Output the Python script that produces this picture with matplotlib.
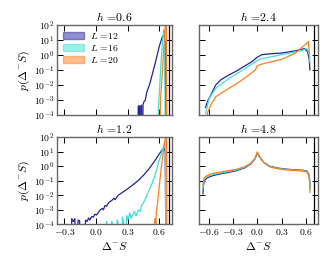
import numpy as np
import matplotlib
matplotlib.use('Agg')
import matplotlib.pyplot as plt
from matplotlib.patches import Patch

plt.rcParams['font.family'] = ['cmr10', 'DejaVu Serif']
plt.rcParams['mathtext.fontset'] = 'cm'
plt.rcParams['axes.unicode_minus'] = False

# log10 of p(Delta^- S); -9 marks an empty bin (drops to the bottom)
sizes = [12, 16, 20]
colors = ['#22229a', '#40e0d0', '#ff7f1e']

# h = 0.6
x06_12 = [0.395, 0.40, 0.41, 0.42, 0.425, 0.43, 0.44, 0.445, 0.455, 0.465, 0.48, 0.51, 0.56, 0.60, 0.63, 0.645, 0.655, 0.665]
y06_12 = [-9, -3.4, -3.4, -9, -3.4, -3.35, -9, -3.3, -3.1, -3.05, -2.5, -1.9, -0.56, 0.6, 1.25, 1.3, 0.8, -9]
x06_16 = [0.585, 0.59, 0.60, 0.61, 0.62, 0.63, 0.64, 0.65, 0.658]
y06_16 = [-9, -3.5, -2.5, -1.2, 0.0, 1.0, 1.7, 1.6, -9]
x06_20 = [0.60, 0.61, 0.625, 0.64, 0.655, 0.665, 0.672]
y06_20 = [-9, -3.0, -1.5, 0.3, 1.9, 2.3, -9]

# h = 1.2
x12_12 = [-0.235, -0.23, -0.215, -0.20, -0.19, -0.17, -0.155, -0.145, -0.11, -0.10, -0.085, -0.07, -0.06, -0.04,
          -0.025, -0.01, 0.005, 0.02, 0.04, 0.06, 0.07, 0.085, 0.10, 0.12, 0.15, 0.17, 0.18, 0.21, 0.25, 0.30,
          0.35, 0.40, 0.45, 0.50, 0.55, 0.60, 0.63, 0.645, 0.655, 0.665]
y12_12 = [-9, -3.6, -3.8, -3.6, -9, -3.7, -3.75, -9, -9, -3.7, -3.8, -3.55, -3.7, -3.45,
          -3.5, -3.3, -3.35, -3.2, -3.0, -2.9, -3.0, -2.7, -2.75, -2.5, -2.35, -2.2, -2.3, -2.0, -1.8, -1.55,
          -1.28, -0.98, -0.62, -0.2, 0.3, 0.85, 1.15, 1.25, 1.0, -9]
x12_16 = [0.095, 0.10, 0.11, 0.14, 0.15, 0.16, 0.19, 0.20, 0.21, 0.22, 0.24, 0.25, 0.26, 0.27, 0.29, 0.30, 0.32,
          0.33, 0.35, 0.36, 0.38, 0.40, 0.42, 0.43, 0.45, 0.47, 0.495, 0.53, 0.56, 0.59, 0.61, 0.64, 0.655, 0.665]
y12_16 = [-9, -3.8, -9, -9, -3.8, -9, -9, -3.7, -3.9, -9, -9, -3.5, -3.8, -9, -3.4, -3.7, -3.2,
          -3.6, -3.3, -3.1, -3.4, -3.0, -3.1, -2.7, -2.5, -2.2, -1.77, -1.2, -0.6, 0.2, 0.65, 1.35, 1.8, -9]
x12_20 = [0.555, 0.56, 0.565, 0.57, 0.58, 0.59, 0.60, 0.615, 0.63, 0.645, 0.66, 0.668, 0.672]
y12_20 = [-9, -3.6, -9, -3.2, -2.7, -2.0, -1.3, -0.3, 0.6, 1.4, 2.0, 2.2, -9]

# h = 2.4
x24_12 = [-0.64, -0.616, -0.575, -0.514, -0.45, -0.351, -0.25, -0.188, -0.065, -0.004, 0.057, 0.15, 0.302, 0.465, 0.58, 0.62, 0.64, 0.648]
y24_12 = [-3.5, -3.1, -2.67, -2.0, -1.65, -1.33, -1.05, -0.84, -0.44, -0.16, 0.02, 0.07, 0.13, 0.27, 0.42, 0.22, -0.3, -1.0]
x24_16 = [-0.64, -0.63, -0.596, -0.514, -0.351, -0.188, -0.004, 0.057, 0.302, 0.547, 0.608, 0.64, 0.648]
y24_16 = [-3.9, -3.67, -2.89, -2.22, -1.56, -1.04, -0.38, -0.24, 0.02, 0.29, 0.44, 0.11, -0.5]
x24_20 = [-0.63, -0.616, -0.575, -0.514, -0.351, -0.188, -0.024, -0.004, 0.057, 0.302, 0.465, 0.588, 0.629, 0.635, 0.64]
y24_20 = [-9, -3.87, -3.33, -2.78, -2.22, -1.67, -1.0, -0.73, -0.6, -0.29, 0.11, 0.67, 0.89, 0.5, 0.15]

# h = 4.8
x48 = [-0.672, -0.665, -0.655, -0.62, -0.55, -0.45, -0.35, -0.25, -0.15, -0.08, -0.03, 0.0,
       0.03, 0.08, 0.15, 0.25, 0.35, 0.45, 0.55, 0.61, 0.635, 0.645, 0.65]
y48_12 = [-1.9, -1.3, -1.0, -0.8, -0.65, -0.52, -0.42, -0.3, -0.1, 0.15, 0.5, 0.9,
          0.6, 0.25, 0.0, -0.13, -0.2, -0.25, -0.28, -0.33, -0.55, -0.9, -1.5]
y48_16 = [-1.55, -1.15, -0.9, -0.72, -0.58, -0.46, -0.36, -0.25, -0.06, 0.18, 0.52, 0.93,
          0.62, 0.25, -0.02, -0.15, -0.22, -0.27, -0.3, -0.36, -0.6, -1.0, -1.6]
y48_20 = [-1.3, -1.0, -0.8, -0.64, -0.5, -0.4, -0.3, -0.2, -0.02, 0.22, 0.55, 0.98,
          0.63, 0.24, -0.04, -0.18, -0.25, -0.3, -0.33, -0.4, -0.65, -1.1, -1.8]

panels = [
    ('0.6', [(x06_12, y06_12), (x06_16, y06_16), (x06_20, y06_20)]),
    ('2.4', [(x24_12, y24_12), (x24_16, y24_16), (x24_20, y24_20)]),
    ('1.2', [(x12_12, y12_12), (x12_16, y12_16), (x12_20, y12_20)]),
    ('4.8', [(x48, y48_12), (x48, y48_16), (x48, y48_20)]),
]

fig = plt.figure(figsize=(3.29, 2.65), dpi=100)
boxes = [[0.173, 0.566, 0.350, 0.340], [0.605, 0.566, 0.362, 0.340],
         [0.173, 0.153, 0.350, 0.330], [0.605, 0.153, 0.362, 0.330]]

for k, (h, curves) in enumerate(panels):
    ax = fig.add_axes(boxes[k])
    for (xs, ys), c in zip(curves, colors):
        ax.plot(xs, 10.0 ** np.array(ys), color=c, lw=0.9)
    ax.axvline(np.log(2), color='k', lw=0.9)
    ax.set_yscale('log')
    ax.set_ylim(1e-4, 1e2)
    ax.set_yticks([1e-4, 1e-3, 1e-2, 1e-1, 1e0, 1e1, 1e2])
    left = k % 2 == 0
    if left:
        ax.set_xlim(-0.37, 0.72)
        xt = [-0.3, 0.0, 0.3, 0.6]
    else:
        ax.set_xlim(-0.72, 0.75)
        xt = [-0.6, -0.3, 0.0, 0.3, 0.6]
    ax.set_xticks(xt)
    if k >= 2:
        ax.set_xticklabels(['$%.1f$' % v for v in xt])
        ax.set_xlabel(r'$\Delta^{-}S$', fontsize=8.5, labelpad=2)
    else:
        ax.set_xticklabels([])
    if left:
        ax.set_ylabel(r'$p(\Delta^{-}S)$', fontsize=8.5, labelpad=1)
    else:
        ax.set_yticklabels([])
    ax.minorticks_on()
    ax.xaxis.set_minor_locator(matplotlib.ticker.NullLocator())
    ax.tick_params(which='both', direction='in', top=True, right=True, labelsize=7, pad=2)
    ax.tick_params(which='major', length=4, width=0.7)
    ax.tick_params(which='minor', length=2, width=0.5)
    for s in ax.spines.values():
        s.set_color('0.4')
        s.set_linewidth(1.0)
    ax.set_title('$h$ =' + h, fontsize=8.5, pad=3)
    if k == 0:
        handles = [Patch(color=c, alpha=0.5) for c in colors]
        ax.legend(handles, ['$L$ =%d' % L for L in sizes], loc='upper left', frameon=False,
                  fontsize=7, handlelength=2.2, handleheight=0.8, labelspacing=0.2,
                  borderaxespad=0.2, handletextpad=0.6)

fig.savefig('out.png', dpi=100)
